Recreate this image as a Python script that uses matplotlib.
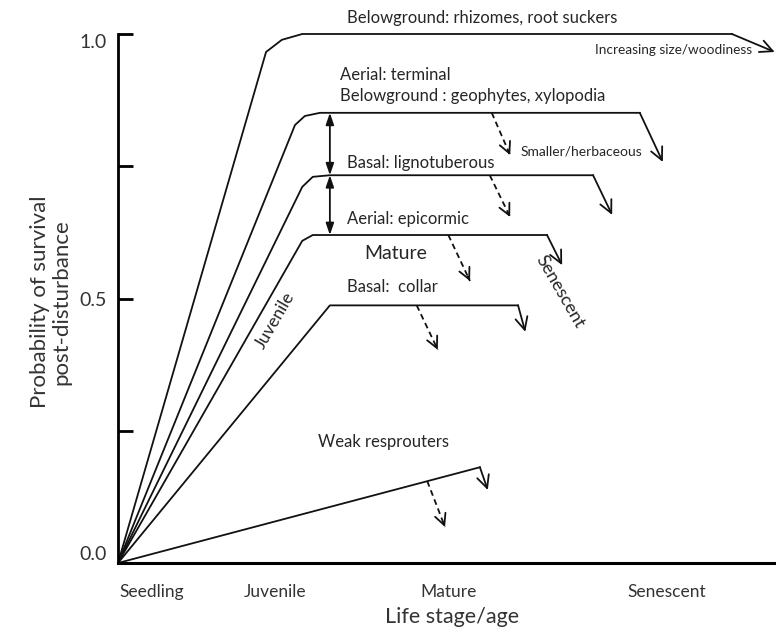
#!/usr/bin/env python3

import matplotlib.pyplot as plt
import numpy as np

# Life-stage positions along the age axis (0 = seedling, 10 = right edge).
STAGES = ["Seedling", "Juvenile", "Mature", "Senescent"]
STAGE_AGE = [0.52, 2.39, 5.02, 8.34]

# Each resprouting type: the rising/plateau curve, where the senescent
# decline ends, and the dashed "smaller/herbaceous" drop.
RHIZOME_AGE = [0, 2.25, 2.49, 2.80, 9.33]
RHIZOME_SURV = [0, 0.966, 0.989, 1.0, 1.0]
RHIZOME_DROP = (9.98, 0.966)

TERMINAL_AGE = [0, 2.69, 2.84, 3.07, 7.93]
TERMINAL_SURV = [0, 0.828, 0.845, 0.851, 0.851]
TERMINAL_DROP = (8.28, 0.758)
TERMINAL_DASH = (5.68, 5.96, 0.771)

LIGNO_AGE = [0, 2.80, 2.96, 3.22, 7.22]
LIGNO_SURV = [0, 0.711, 0.730, 0.733, 0.733]
LIGNO_DROP = (7.51, 0.658)
LIGNO_DASH = (5.65, 5.96, 0.654)

EPICORMIC_AGE = [0, 2.80, 2.96, 6.52]
EPICORMIC_SURV = [0, 0.609, 0.620, 0.620]
EPICORMIC_DROP = (6.75, 0.563)
EPICORMIC_DASH = (5.02, 5.35, 0.533)

COLLAR_AGE = [0, 3.22, 6.08]
COLLAR_SURV = [0, 0.487, 0.487]
COLLAR_DROP = (6.19, 0.437)
COLLAR_DASH = (4.54, 4.86, 0.403)

WEAK_AGE = [0, 5.50]
WEAK_SURV = [0, 0.181]
WEAK_DROP = (5.62, 0.138)
WEAK_DASH = (4.70, 4.97, 0.068)

# Double-headed arrows showing the gap between resprouting types.
GAP_AGE = 3.22
GAP_LEVELS = [0.851, 0.733, 0.620]

INK = "#111111"
TEXT = "#262626"


def arrow(ax, start, end, style="->", head=(0.45, 0.22)):
    ax.annotate(
        "",
        xy=end,
        xytext=start,
        arrowprops=dict(
            arrowstyle=f"{style},head_length={head[0]},head_width={head[1]}",
            mutation_scale=20,
            color=INK,
            lw=1.3,
            shrinkA=0,
            shrinkB=0,
        ),
    )


def dashed_arrow(ax, start, end):
    ax.plot([start[0], end[0]], [start[1], end[1]], color=INK, lw=1.3,
            linestyle=(0, (3.2, 2.2)))
    # Solid head on the last bit of the shaft.
    near = (start[0] + 0.9 * (end[0] - start[0]),
            start[1] + 0.9 * (end[1] - start[1]))
    arrow(ax, near, end, head=(0.4, 0.2))


def main():
    plt.rcParams["font.family"] = ["Lato", "DejaVu Sans"]

    fig = plt.figure(figsize=(7.76, 6.32), dpi=100)
    ax = fig.add_axes([118 / 776, 69 / 632, 658 / 776, 563 / 632])
    ax.set_xlim(0, 10)
    ax.set_ylim(0, 563 / 529)

    series = [
        (RHIZOME_AGE, RHIZOME_SURV, RHIZOME_DROP, None),
        (TERMINAL_AGE, TERMINAL_SURV, TERMINAL_DROP, TERMINAL_DASH),
        (LIGNO_AGE, LIGNO_SURV, LIGNO_DROP, LIGNO_DASH),
        (EPICORMIC_AGE, EPICORMIC_SURV, EPICORMIC_DROP, EPICORMIC_DASH),
        (COLLAR_AGE, COLLAR_SURV, COLLAR_DROP, COLLAR_DASH),
        (WEAK_AGE, WEAK_SURV, WEAK_DROP, WEAK_DASH),
    ]
    for age, surv, drop, dash in series:
        ax.plot(age, surv, color=INK, lw=1.3, solid_joinstyle="round")
        arrow(ax, (age[-1], surv[-1]), drop)
        if dash is not None:
            x0 = dash[0]
            y0 = np.interp(x0, age, surv)
            dashed_arrow(ax, (x0, y0), (dash[1], dash[2]))

    for top, bottom in zip(GAP_LEVELS[:-1], GAP_LEVELS[1:]):
        arrow(ax, (GAP_AGE, top), (GAP_AGE, bottom), style="<|-|>",
              head=(0.35, 0.12))

    # Annotations.
    ax.text(3.48, 1.030, "Belowground: rhizomes, root suckers", fontsize=12,
            color=TEXT, va="center")
    ax.text(7.25, 0.970, "Increasing size/woodiness", fontsize=9.8,
            color=TEXT, va="center")
    ax.text(3.37, 0.922, "Aerial: terminal", fontsize=12, color=TEXT,
            va="center")
    ax.text(3.37, 0.883, "Belowground : geophytes, xylopodia", fontsize=12,
            color=TEXT, va="center")
    ax.text(6.12, 0.777, "Smaller/herbaceous", fontsize=10, color=TEXT,
            va="center")
    ax.text(3.48, 0.756, "Basal: lignotuberous", fontsize=12, color=TEXT,
            va="center")
    ax.text(3.48, 0.650, "Aerial: epicormic", fontsize=12, color=TEXT,
            va="center")
    ax.text(4.22, 0.586, "Mature", fontsize=14, color=TEXT, ha="center",
            va="center")
    ax.text(3.48, 0.522, "Basal:  collar", fontsize=12, color=TEXT,
            va="center")
    ax.text(2.39, 0.459, "Juvenile", fontsize=12.5, color=TEXT, ha="center",
            va="center", rotation=60, rotation_mode="anchor")
    ax.text(6.72, 0.512, "Senescent", fontsize=13, color=TEXT, ha="center",
            va="center", rotation=-60, rotation_mode="anchor")
    ax.text(3.04, 0.229, "Weak resprouters", fontsize=12, color=TEXT,
            va="center")

    # Axes styling.
    for side in ("top", "right"):
        ax.spines[side].set_visible(False)
    ax.spines["left"].set_bounds(0, 1)
    ax.spines["left"].set_linewidth(2)
    ax.spines["bottom"].set_linewidth(2.2)

    ax.set_yticks([0, 0.25, 0.5, 0.75, 1.0], ["0.0", "", "0.5", "", "1.0"])
    ax.tick_params(axis="y", direction="in", length=11, width=2, pad=8,
                   labelsize=14, labelcolor="#333333")
    labels = ax.get_yticklabels()
    labels[0].set_va("bottom")
    labels[-1].set_va("top")

    ax.set_xticks(STAGE_AGE, STAGES)
    ax.tick_params(axis="x", length=0, pad=15, labelsize=12.5,
                   labelcolor="#333333")

    ax.set_xlabel("Life stage/age", fontsize=15.5, color="#333333", va="top")
    ax.xaxis.set_label_coords(0.508, -0.078)
    ax.set_ylabel("Probability of survival\npost-disturbance", fontsize=16,
                  color="#333333", linespacing=1.1)
    ax.yaxis.set_label_coords(-0.071, 0.464)

    fig.savefig("out.png", dpi=100)


if __name__ == "__main__":
    main()
